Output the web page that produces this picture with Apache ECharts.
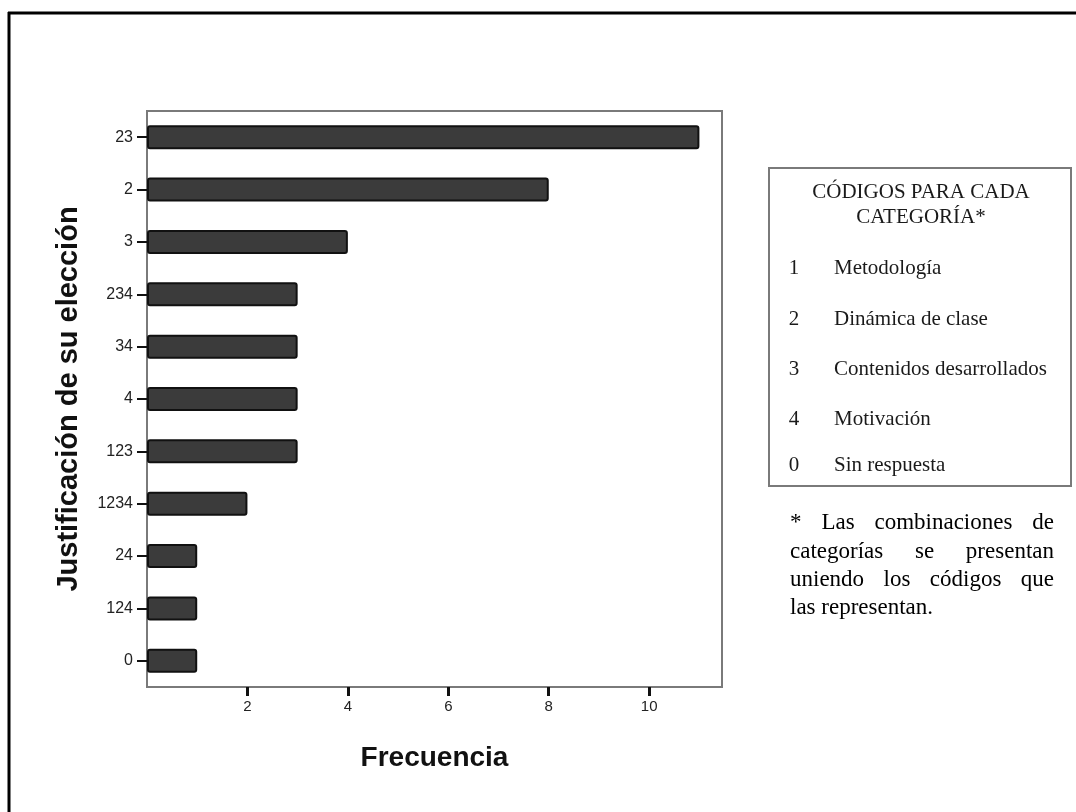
<!DOCTYPE html>
<html><head><meta charset="utf-8">
<script src="https://cdn.jsdelivr.net/npm/echarts@6/dist/echarts.min.js"></script>
<style>html,body{margin:0;padding:0;background:#fff}#c{width:1076px;height:812px}</style>
</head><body><div id="c"></div>
<script>
const categories = ['23','2','3','234','34','4','123','1234','24','124','0'];
const frequencies = [11, 8, 4, 3, 3, 3, 3, 2, 1, 1, 1];
const xTicks = [2, 4, 6, 8, 10];
const yAxisTitle = 'Justificación de su elección';
const xAxisTitle = 'Frecuencia';
const legendTitle = ['CÓDIGOS PARA CADA', 'CATEGORÍA*'];
const legendCodes = ['1', '2', '3', '4', '0'];
const legendNames = ['Metodología', 'Dinámica de clase', 'Contenidos desarrollados', 'Motivación', 'Sin respuesta'];
const noteLines = [
  ['*', 'Las', 'combinaciones', 'de'],
  ['categorías', 'se', 'presentan'],
  ['uniendo', 'los', 'códigos', 'que'],
  ['las representan.']
];

const serif = '"Liberation Serif", "DejaVu Serif", serif';
const sans = '"Liberation Sans", Arial, sans-serif';

const graphics = [];
// outer frame (top + left)
graphics.push({type:'line', shape:{x1:8, y1:13, x2:1076, y2:13}, style:{stroke:'#000', lineWidth:3}});
graphics.push({type:'line', shape:{x1:9, y1:12, x2:9, y2:812}, style:{stroke:'#000', lineWidth:3}});
// legend box
graphics.push({type:'rect', shape:{x:769, y:168, width:302, height:318}, style:{fill:'#fff', stroke:'#7a7a7a', lineWidth:2}});
const legendFont = '21px ' + serif;
legendTitle.forEach((t, i) => {
  graphics.push({type:'text', x:921, y:192 + i*25, style:{text:t, font:legendFont, fill:'#1a1a1a', textAlign:'center', textVerticalAlign:'middle'}});
});
const itemY = [268, 319, 369, 419, 465];
legendCodes.forEach((c, i) => {
  graphics.push({type:'text', x:794, y:itemY[i], style:{text:c, font:legendFont, fill:'#1a1a1a', textAlign:'center', textVerticalAlign:'middle'}});
  graphics.push({type:'text', x:834, y:itemY[i], style:{text:legendNames[i], font:legendFont, fill:'#1a1a1a', textAlign:'left', textVerticalAlign:'middle'}});
});
// justified note
const noteFont = '23px ' + serif;
const cv = document.createElement('canvas').getContext('2d');
cv.font = noteFont;
const noteLeft = 790, noteRight = 1054, noteY = [523, 552, 580, 608];
noteLines.forEach((words, li) => {
  const last = li === noteLines.length - 1;
  if (last || words.length === 1) {
    graphics.push({type:'text', x:noteLeft, y:noteY[li], style:{text:words.join(' '), font:noteFont, fill:'#000', textAlign:'left', textVerticalAlign:'middle'}});
    return;
  }
  const widths = words.map(w => cv.measureText(w).width);
  const total = widths.reduce((a, b) => a + b, 0);
  const gap = (noteRight - noteLeft - total) / (words.length - 1);
  let x = noteLeft;
  words.forEach((w, wi) => {
    graphics.push({type:'text', x:x, y:noteY[li], style:{text:w, font:noteFont, fill:'#000', textAlign:'left', textVerticalAlign:'middle'}});
    x += widths[wi] + gap;
  });
});

const chart = echarts.init(document.getElementById('c'));
chart.setOption({
  backgroundColor: '#fff',
  animation: false,
  grid: {left:147, top:111, right:354, bottom:125, show:true, borderColor:'#7a7a7a', borderWidth:2, containLabel:false},
  xAxis: {
    type:'value', min:0, max:11.45, interval:2,
    name: xAxisTitle, nameLocation:'middle', nameGap:57,
    nameTextStyle:{fontFamily:sans, fontWeight:'bold', fontSize:28, color:'#111'},
    axisLine:{show:true, lineStyle:{color:'#7a7a7a', width:2}},
    axisTick:{show:true, length:9, lineStyle:{color:'#111', width:3}, customValues: xTicks},
    axisLabel:{fontFamily:sans, fontSize:15, color:'#222', margin:12, customValues: xTicks},
    splitLine:{show:false}
  },
  yAxis: {
    type:'category', data: categories, inverse:true,
    name: yAxisTitle, nameLocation:'middle', nameGap:64, nameRotate:90,
    nameTextStyle:{fontFamily:sans, fontWeight:'bold', fontSize:29, color:'#111'},
    axisLine:{show:true, lineStyle:{color:'#7a7a7a', width:2}},
    axisTick:{show:true, alignWithLabel:true, length:10, lineStyle:{color:'#111', width:2}},
    axisLabel:{fontFamily:sans, fontSize:16, color:'#222', margin:14},
    splitLine:{show:false}
  },
  series: [{
    type:'bar', data: frequencies, barWidth:24,
    itemStyle:{color:'#3b3b3b', borderColor:'#111', borderWidth:2, borderRadius:2}
  }],
  graphic: graphics
});
</script></body></html>
